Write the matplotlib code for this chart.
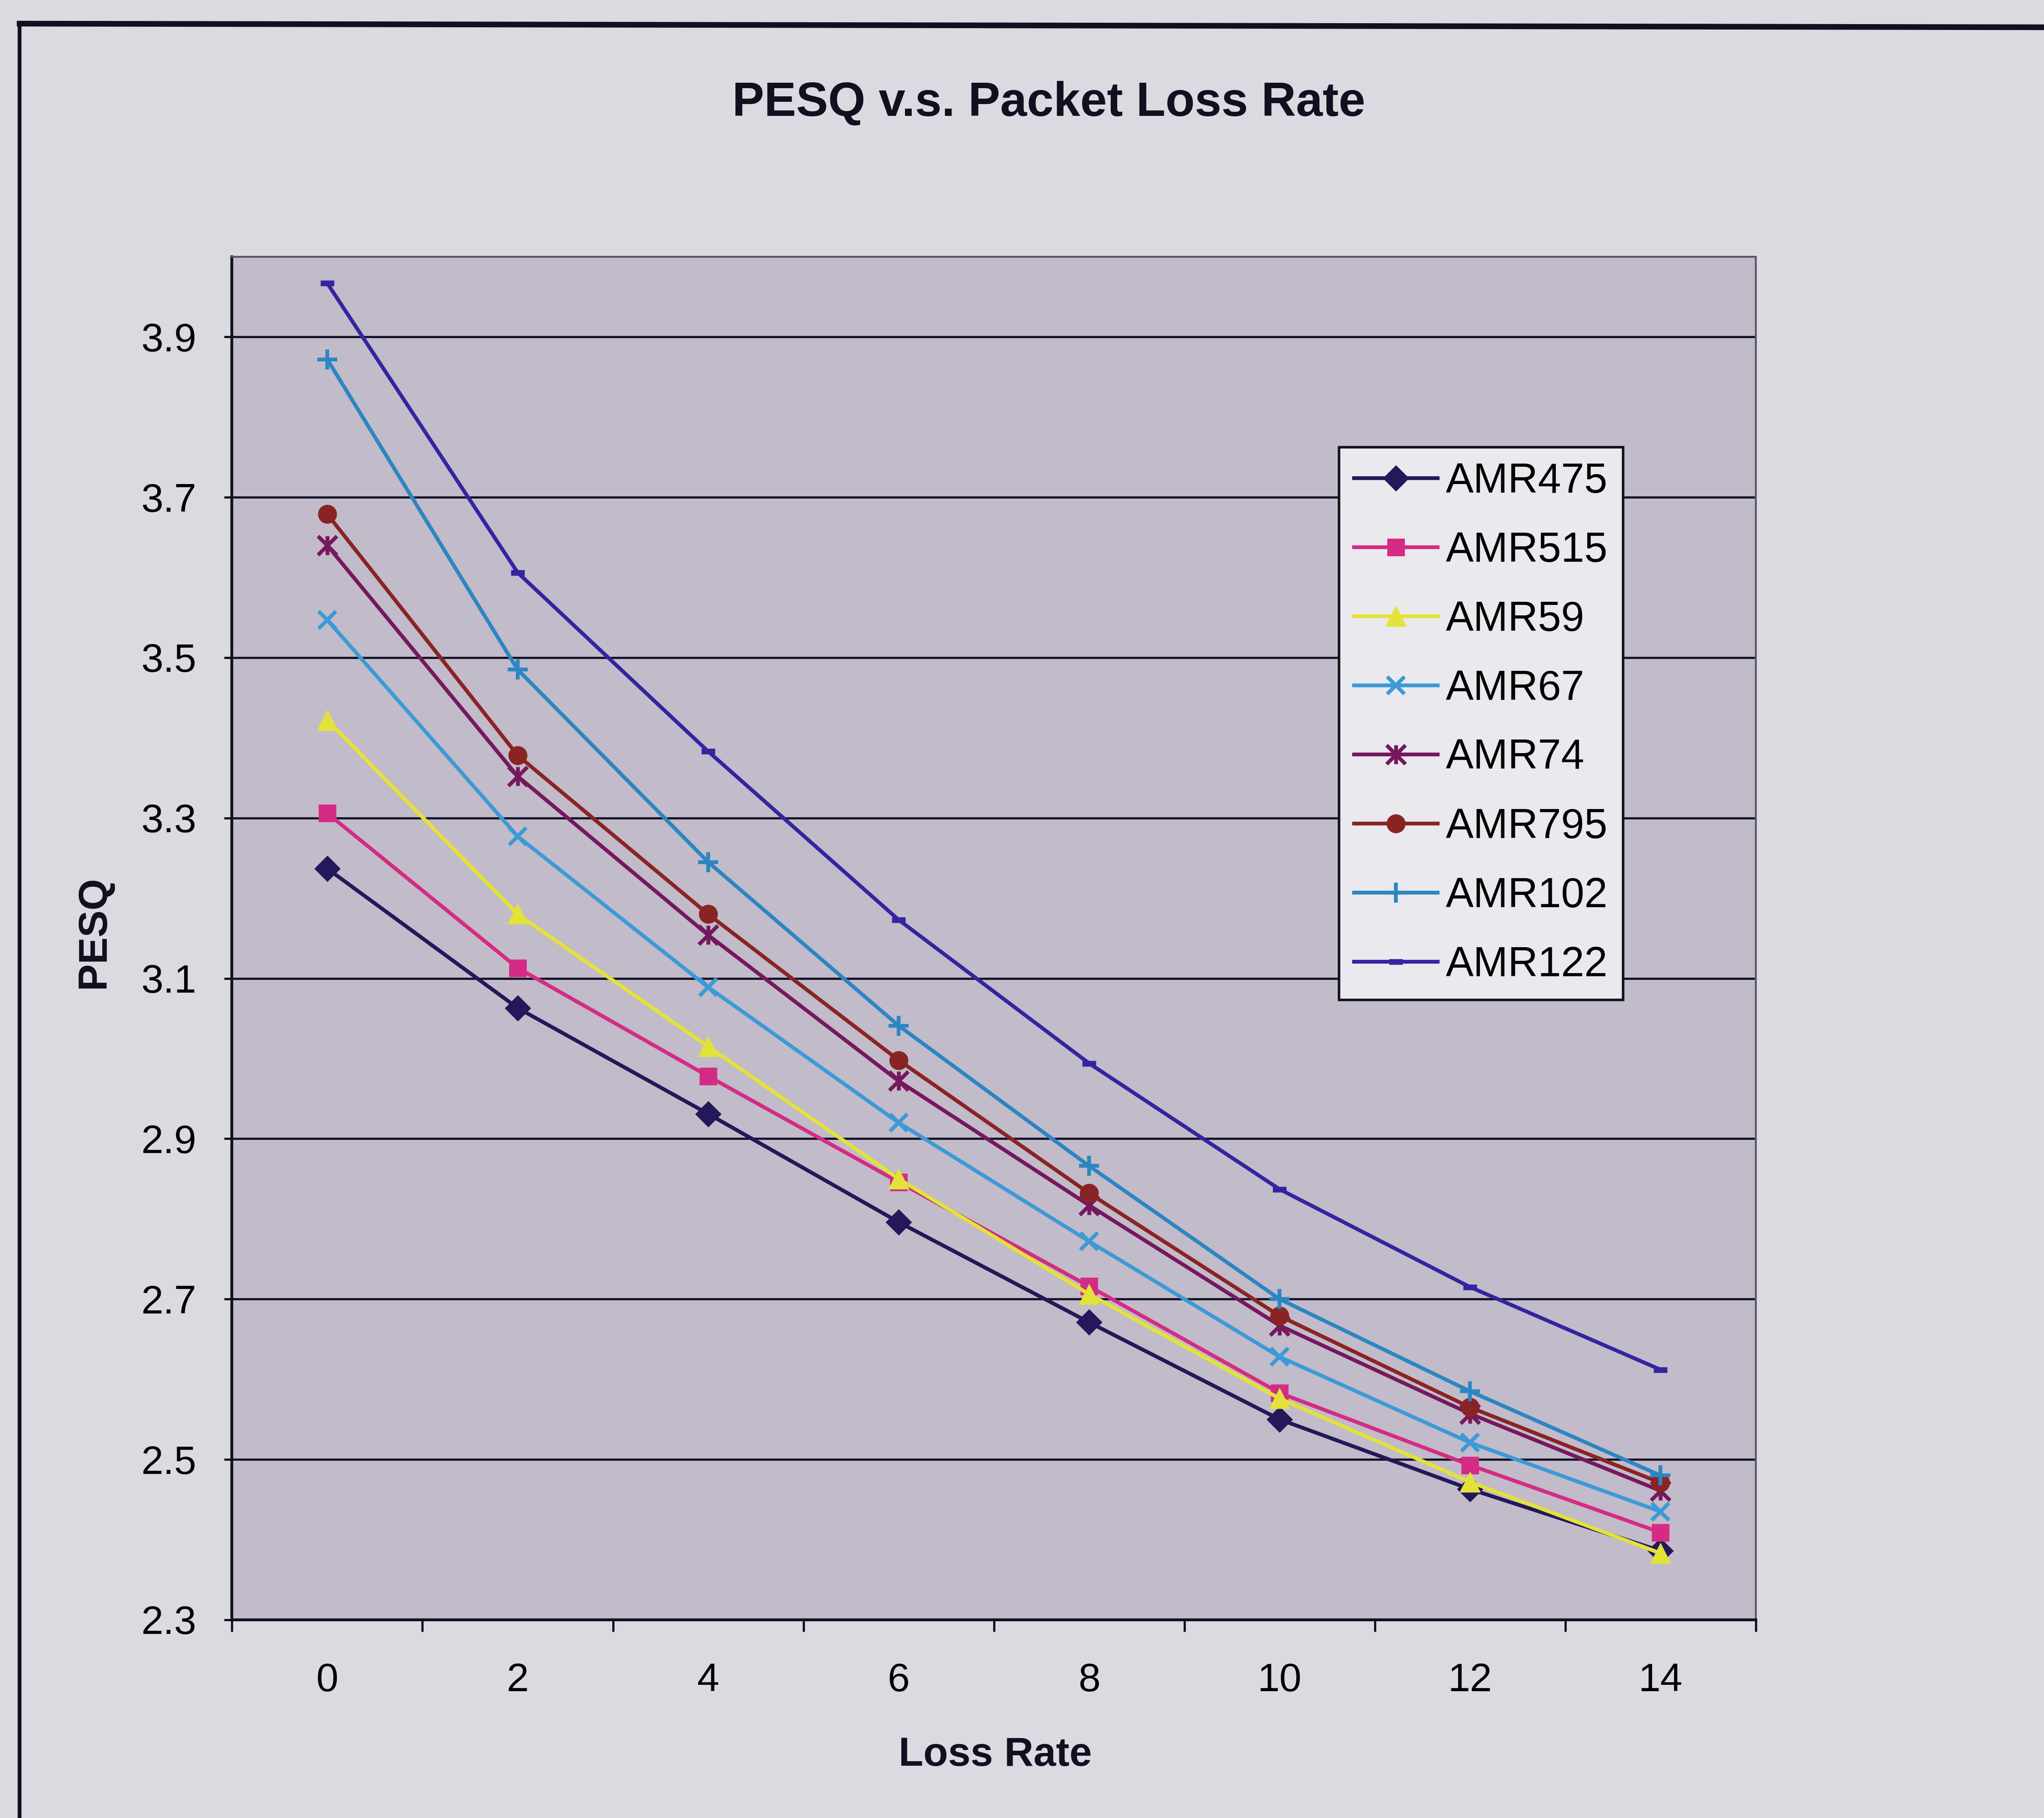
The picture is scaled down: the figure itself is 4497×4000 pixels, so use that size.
import matplotlib
matplotlib.use("Agg")
import matplotlib.pyplot as plt
from matplotlib.path import Path
from matplotlib.lines import Line2D

plt.rcParams['font.family'] = ['Liberation Sans', 'DejaVu Sans']

# Packet loss rate (%) on the category axis
loss_rate = [0, 2, 4, 6, 8, 10, 12, 14]

# PESQ score per AMR codec mode
amr475 = [3.237, 3.063, 2.931, 2.796, 2.671, 2.550, 2.463, 2.386]
amr515 = [3.306, 3.113, 2.978, 2.846, 2.716, 2.583, 2.493, 2.409]
amr59 = [3.422, 3.180, 3.015, 2.850, 2.706, 2.576, 2.472, 2.383]
amr67 = [3.547, 3.277, 3.089, 2.920, 2.772, 2.628, 2.521, 2.435]
amr74 = [3.640, 3.352, 3.154, 2.972, 2.817, 2.667, 2.557, 2.461]
amr795 = [3.679, 3.378, 3.180, 2.998, 2.832, 2.679, 2.565, 2.471]
amr102 = [3.872, 3.485, 3.245, 3.041, 2.866, 2.700, 2.585, 2.480]
amr122 = [3.967, 3.606, 3.383, 3.173, 2.994, 2.837, 2.715, 2.612]

series_names = ["AMR475", "AMR515", "AMR59", "AMR67", "AMR74", "AMR795", "AMR102", "AMR122"]
y_ticks = [2.3, 2.5, 2.7, 2.9, 3.1, 3.3, 3.5, 3.7, 3.9]

# Excel-style asterisk marker: an x with a vertical bar
star = Path([(0, -1), (0, 1), (-1, -1), (1, 1), (-1, 1), (1, -1)],
            [Path.MOVETO, Path.LINETO, Path.MOVETO, Path.LINETO, Path.MOVETO, Path.LINETO])

styles = [
    dict(color="#24185a", marker="D", ms=28),
    dict(color="#d42c84", marker="s", ms=26),
    dict(color="#e2e23a", marker="^", ms=30),
    dict(color="#3c9ad6", marker="x", ms=28, mew=6),
    dict(color="#76185e", marker=star, ms=30, mew=6),
    dict(color="#8a2424", marker="o", ms=28),
    dict(color="#2c86c2", marker="+", ms=32, mew=6),
    dict(color="#3424a0", marker="_", ms=22, mew=9),
]

fig = plt.figure(figsize=(44.97, 40), dpi=100, facecolor="#d9dbe1")
ax = fig.add_axes([0.1135, 0.109, 0.7455, 0.7498])
ax.set_facecolor("#c2bbc9")

all_series = [amr475, amr515, amr59, amr67, amr74, amr795, amr102, amr122]
for name, vals, st in zip(series_names, all_series, styles):
    ax.plot(loss_rate, vals, label=name, color=st["color"], lw=6,
            marker=st["marker"], markersize=st["ms"],
            markeredgewidth=st.get("mew", 2), markerfacecolor=st["color"],
            markeredgecolor=st["color"], zorder=3)

ax.set_ylim(2.3, 4.0)
ax.set_xlim(loss_rate[0] - 1, loss_rate[-1] + 1)
ax.set_yticks(y_ticks)
ax.set_yticklabels([f"{v:.1f}" for v in y_ticks])
ax.yaxis.grid(True, color="#14142a", lw=3.5, zorder=1)
ax.set_axisbelow(True)

ax.set_xticks(loss_rate)
ax.set_xticklabels([str(v) for v in loss_rate])
ax.set_xticks([v - 1 for v in loss_rate] + [loss_rate[-1] + 1], minor=True)
ax.tick_params(axis="x", which="major", length=0, pad=68, labelsize=63)
ax.tick_params(axis="x", which="minor", length=19, width=3.5, direction="out", color="#101020")
ax.tick_params(axis="y", which="major", length=12, width=3.5, pad=44, labelsize=63, color="#101020")

for side in ("left", "bottom"):
    ax.spines[side].set_color("#101020")
    ax.spines[side].set_linewidth(4.5)
for side in ("top", "right"):
    ax.spines[side].set_color("#5a5468")
    ax.spines[side].set_linewidth(3)

leg = ax.legend(loc="upper right", bbox_to_anchor=(0.794, 0.754),
                bbox_transform=fig.transFigure, borderaxespad=0,
                fontsize=66, frameon=True, fancybox=False,
                handlelength=2.0, handletextpad=0.2, labelspacing=0.72,
                borderpad=0.36, markerscale=1.0)
leg.get_frame().set_facecolor("#e9e9ee")
leg.get_frame().set_edgecolor("#101020")
leg.get_frame().set_linewidth(4)
leg.get_frame().set_alpha(1)

fig.text(0.513, 0.943, "PESQ v.s. Packet Loss Rate", ha="center", va="center",
         fontsize=76, fontweight="bold", color="#101020")
fig.text(0.487, 0.0344, "Loss Rate", ha="center", va="center",
         fontsize=64, fontweight="bold", color="#101020")
fig.text(0.046, 0.4875, "PESQ", ha="center", va="center", rotation=90,
         fontsize=64, fontweight="bold", color="#101020")

# Outer chart border (left and top edges)
fig.add_artist(Line2D([0.0096, 0.0096], [0.0, 0.987], transform=fig.transFigure,
                      color="#101020", lw=6))
fig.add_artist(Line2D([0.0096, 1.0], [0.987, 0.985], transform=fig.transFigure,
                      color="#101020", lw=9))

fig.savefig("out.png", dpi=100, facecolor=fig.get_facecolor())
